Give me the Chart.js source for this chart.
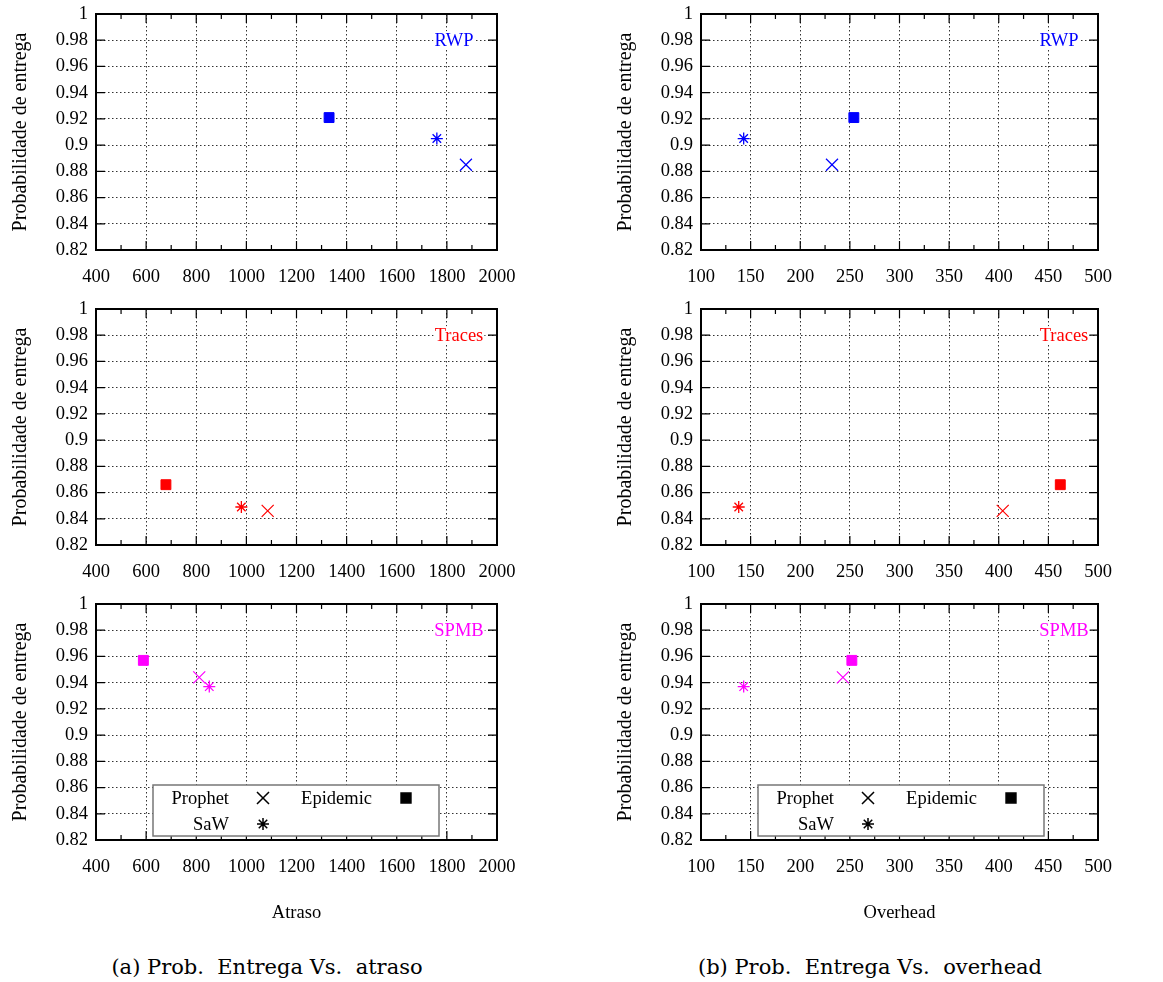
<!DOCTYPE html>
<html>
<head>
<meta charset="utf-8">
<script src="https://cdn.jsdelivr.net/npm/chart.js@4.4.1/dist/chart.umd.min.js"></script>
<style>
body { margin: 0; background: #fff; }
#page { position: relative; width: 1163px; height: 982px; overflow: hidden; }
canvas { position: absolute; }
.caption { position: absolute; font-family: 'DejaVu Serif', serif; font-size: 21px; color: #000; white-space: pre; transform: translateX(-50%); }
</style>
</head>
<body>
<div id="page">
  <div class="caption" style="left:267px; top:955px;">(a) Prob.  Entrega Vs.  atraso</div>
  <div class="caption" style="left:870px; top:955px;">(b) Prob.  Entrega Vs.  overhead</div>
</div>
<script>
const scenarios = ["RWP", "Traces", "SPMB"];
const scenarioColors = ["#0000ff", "#ff0000", "#ff00ff"];
const protocols = ["Prophet", "SaW", "Epidemic"];

// probabilidade de entrega (one value per scenario: RWP, Traces, SPMB)
const probProphet = [0.885, 0.846, 0.944];
const probSaW = [0.905, 0.849, 0.937];
const probEpidemic = [0.921, 0.866, 0.957];

// atraso
const atrasoProphet = [1876, 1085, 812];
const atrasoSaW = [1760, 980, 852];
const atrasoEpidemic = [1330, 679, 589];

// overhead
const overheadProphet = [232, 404, 243];
const overheadSaW = [143, 138, 143];
const overheadEpidemic = [254, 462, 252];

// tick values
const yTicks = [0.82, 0.84, 0.86, 0.88, 0.9, 0.92, 0.94, 0.96, 0.98, 1];
const atrasoTicks = [400, 600, 800, 1000, 1200, 1400, 1600, 1800, 2000];
const overheadTicks = [100, 150, 200, 250, 300, 350, 400, 450, 500];

const FONT = "'Liberation Serif', 'Times New Roman', serif";
const FSIZE = 18.5;

const probs = [probProphet, probSaW, probEpidemic];
const markers = [
    { style: "crossRot", radius: 8.5, width: 1.2 },
    { style: "star", radius: 6, width: 1.3 },
    { style: "rect", radius: 7, width: 1 }
];

const columns = [
    { title: "Atraso", ticks: atrasoTicks, values: [atrasoProphet, atrasoSaW, atrasoEpidemic],
      left: 0, width: 560, padRight: 63, labelOffsets: [43, 38, 38] },
    { title: "Overhead", ticks: overheadTicks, values: [overheadProphet, overheadSaW, overheadEpidemic],
      left: 605, width: 558, padRight: 65, labelOffsets: [39, 34, 34] }
];
const rowTops = [0, 295, 590];

// ---------------- FRAME / TICKS / LABEL / LEGEND ----------------
function framePlugin(label, color, labelOffset, withLegend) {
    return {
        id: "frame",
        afterDatasetsDraw(chart) {
            const ctx = chart.ctx;
            const ca = chart.chartArea;
            const xs = chart.scales.x;
            const ys = chart.scales.y;
            ctx.save();

            // inward ticks, gnuplot style
            ctx.strokeStyle = "#000";
            ctx.lineWidth = 1.2;
            ctx.beginPath();
            const xt = xs.ticks.map(t => t.value);
            xt.forEach((v, i) => {
                const px = xs.getPixelForValue(v);
                ctx.moveTo(px, ca.bottom); ctx.lineTo(px, ca.bottom - 9);
                ctx.moveTo(px, ca.top); ctx.lineTo(px, ca.top + 9);
                if (i < xt.length - 1) {
                    const mx = xs.getPixelForValue((v + xt[i + 1]) / 2);
                    ctx.moveTo(mx, ca.bottom); ctx.lineTo(mx, ca.bottom - 5);
                    ctx.moveTo(mx, ca.top); ctx.lineTo(mx, ca.top + 5);
                }
            });
            ys.ticks.forEach(t => {
                const py = ys.getPixelForValue(t.value);
                ctx.moveTo(ca.left, py); ctx.lineTo(ca.left + 9, py);
                ctx.moveTo(ca.right, py); ctx.lineTo(ca.right - 9, py);
            });
            ctx.stroke();

            // border
            ctx.lineWidth = 2;
            ctx.strokeRect(ca.left, ca.top, ca.right - ca.left, ca.bottom - ca.top);

            // scenario label
            ctx.font = FSIZE + "px " + FONT;
            ctx.textAlign = "center";
            ctx.textBaseline = "middle";
            const lx = ca.right - labelOffset;
            const ly = ys.getPixelForValue(0.98);
            const lw = ctx.measureText(label).width;
            ctx.fillStyle = "#fff";
            ctx.fillRect(lx - lw / 2 - 1, ly - 9, lw + 2, 18);
            ctx.fillStyle = color;
            ctx.fillText(label, lx, ly + 1);

            if (withLegend) {
                const bx = ca.left + 57, by = ca.bottom - 55, bw = 286, bh = 51;
                ctx.fillStyle = "#fff";
                ctx.fillRect(bx, by, bw, bh);
                ctx.strokeStyle = "#777";
                ctx.lineWidth = 1.5;
                ctx.strokeRect(bx, by, bw, bh);

                const slots = [
                    { tx: bx + 76, sx: bx + 110, y: by + 13 },
                    { tx: bx + 76, sx: bx + 110, y: by + 39 },
                    { tx: bx + 219, sx: bx + 253, y: by + 13 }
                ];
                ctx.textAlign = "right";
                protocols.forEach((name, i) => {
                    const s = slots[i];
                    ctx.fillStyle = "#000";
                    ctx.fillText(name, s.tx, s.y + 1);
                    ctx.strokeStyle = "#000";
                    Chart.helpers.drawPoint(ctx, {
                        pointStyle: markers[i].style,
                        radius: markers[i].radius,
                        borderWidth: markers[i].width,
                        rotation: 0
                    }, s.sx, s.y);
                });
            }
            ctx.restore();
        }
    };
}

// ---------------- CREATE CHARTS ----------------
const page = document.getElementById("page");

columns.forEach(col => {
    scenarios.forEach((scen, r) => {
        const isBottom = r === scenarios.length - 1;
        const canvas = document.createElement("canvas");
        const h = isBottom ? 340 : 290;
        canvas.width = col.width;
        canvas.height = h;
        canvas.style.left = col.left + "px";
        canvas.style.top = rowTops[r] + "px";
        canvas.style.width = col.width + "px";
        canvas.style.height = h + "px";
        page.appendChild(canvas);

        const color = scenarioColors[r];
        const datasets = protocols.map((name, i) => ({
            label: name,
            data: [{ x: col.values[i][r], y: probs[i][r] }],
            pointStyle: markers[i].style,
            pointRadius: markers[i].radius,
            pointBorderWidth: markers[i].width,
            borderColor: color,
            backgroundColor: color
        }));

        new Chart(canvas, {
            type: "scatter",
            data: { datasets: datasets },
            plugins: [framePlugin(scen, color, col.labelOffsets[r], isBottom)],
            options: {
                responsive: false,
                animation: false,
                devicePixelRatio: 1,
                events: [],
                layout: { padding: { left: 0, top: 14, right: col.padRight, bottom: 0 } },
                plugins: { legend: { display: false }, tooltip: { enabled: false } },
                scales: {
                    x: {
                        type: "linear",
                        min: col.ticks[0],
                        max: col.ticks[col.ticks.length - 1],
                        afterBuildTicks: s => { s.ticks = col.ticks.map(v => ({ value: v })); },
                        afterFit: s => {
                            s.height = isBottom ? 90 : 40;
                            s.paddingLeft = 0; s.paddingRight = 0;
                        },
                        ticks: {
                            color: "#000",
                            padding: 16,
                            maxRotation: 0,
                            autoSkip: false,
                            font: { family: FONT, size: FSIZE },
                            callback: v => String(v)
                        },
                        grid: { color: "#333", lineWidth: 1, drawTicks: false },
                        border: { display: false, dash: [1.5, 2.5] },
                        title: {
                            display: isBottom,
                            text: col.title,
                            color: "#000",
                            font: { family: FONT, size: FSIZE },
                            padding: { top: 0, bottom: 6 }
                        }
                    },
                    y: {
                        type: "linear",
                        min: yTicks[0],
                        max: yTicks[yTicks.length - 1],
                        afterBuildTicks: s => { s.ticks = yTicks.map(v => ({ value: v })); },
                        afterFit: s => {
                            s.width = 96;
                            s.paddingTop = 0; s.paddingBottom = 0;
                        },
                        ticks: {
                            color: "#000",
                            padding: 8,
                            autoSkip: false,
                            font: { family: FONT, size: FSIZE },
                            callback: v => String(+v.toFixed(2))
                        },
                        grid: { color: "#333", lineWidth: 1, drawTicks: false },
                        border: { display: false, dash: [1.5, 2.5] },
                        title: {
                            display: true,
                            text: "Probabilidade de entrega",
                            color: "#000",
                            font: { family: FONT, size: 20 },
                            padding: { top: 9, bottom: 0 }
                        }
                    }
                }
            }
        });
    });
});
</script>
</body>
</html>
